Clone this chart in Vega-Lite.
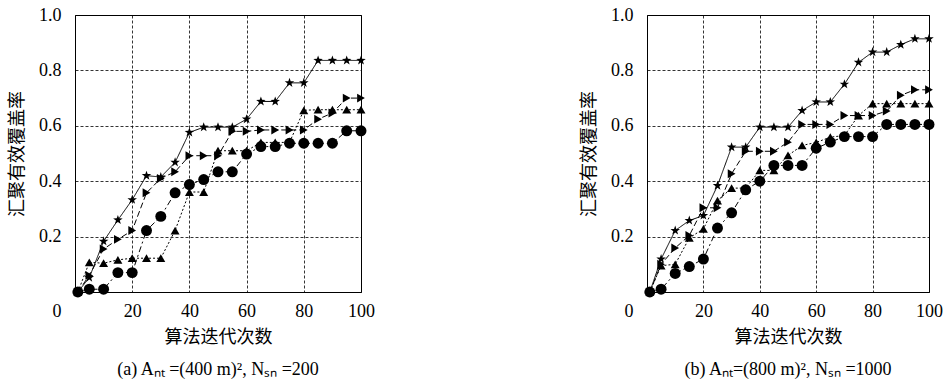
{
  "$schema": "https://vega.github.io/schema/vega-lite/v6.json",
  "background": "white",
  "padding": {"left": 8, "top": 5, "right": 0, "bottom": 0},
  "datasets": {
    "d": [
      {"panel":"a","algorithm":"QWPEA","iteration":1,"coverage":0},
      {"panel":"a","algorithm":"QWPEA","iteration":5,"coverage":0.052},
      {"panel":"a","algorithm":"QWPEA","iteration":10,"coverage":0.183},
      {"panel":"a","algorithm":"QWPEA","iteration":15,"coverage":0.26},
      {"panel":"a","algorithm":"QWPEA","iteration":20,"coverage":0.333},
      {"panel":"a","algorithm":"QWPEA","iteration":25,"coverage":0.42},
      {"panel":"a","algorithm":"QWPEA","iteration":30,"coverage":0.415},
      {"panel":"a","algorithm":"QWPEA","iteration":35,"coverage":0.468},
      {"panel":"a","algorithm":"QWPEA","iteration":40,"coverage":0.576},
      {"panel":"a","algorithm":"QWPEA","iteration":45,"coverage":0.595},
      {"panel":"a","algorithm":"QWPEA","iteration":50,"coverage":0.595},
      {"panel":"a","algorithm":"QWPEA","iteration":55,"coverage":0.595},
      {"panel":"a","algorithm":"QWPEA","iteration":60,"coverage":0.624},
      {"panel":"a","algorithm":"QWPEA","iteration":65,"coverage":0.688},
      {"panel":"a","algorithm":"QWPEA","iteration":70,"coverage":0.688},
      {"panel":"a","algorithm":"QWPEA","iteration":75,"coverage":0.755},
      {"panel":"a","algorithm":"QWPEA","iteration":80,"coverage":0.755},
      {"panel":"a","algorithm":"QWPEA","iteration":85,"coverage":0.836},
      {"panel":"a","algorithm":"QWPEA","iteration":90,"coverage":0.836},
      {"panel":"a","algorithm":"QWPEA","iteration":95,"coverage":0.836},
      {"panel":"a","algorithm":"QWPEA","iteration":100,"coverage":0.836},
      {"panel":"a","algorithm":"BWPA","iteration":1,"coverage":0},
      {"panel":"a","algorithm":"BWPA","iteration":5,"coverage":0.06},
      {"panel":"a","algorithm":"BWPA","iteration":10,"coverage":0.155},
      {"panel":"a","algorithm":"BWPA","iteration":15,"coverage":0.19},
      {"panel":"a","algorithm":"BWPA","iteration":20,"coverage":0.222},
      {"panel":"a","algorithm":"BWPA","iteration":25,"coverage":0.358},
      {"panel":"a","algorithm":"BWPA","iteration":30,"coverage":0.41},
      {"panel":"a","algorithm":"BWPA","iteration":35,"coverage":0.434},
      {"panel":"a","algorithm":"BWPA","iteration":40,"coverage":0.492},
      {"panel":"a","algorithm":"BWPA","iteration":45,"coverage":0.492},
      {"panel":"a","algorithm":"BWPA","iteration":50,"coverage":0.492},
      {"panel":"a","algorithm":"BWPA","iteration":55,"coverage":0.58},
      {"panel":"a","algorithm":"BWPA","iteration":60,"coverage":0.58},
      {"panel":"a","algorithm":"BWPA","iteration":65,"coverage":0.585},
      {"panel":"a","algorithm":"BWPA","iteration":70,"coverage":0.585},
      {"panel":"a","algorithm":"BWPA","iteration":75,"coverage":0.585},
      {"panel":"a","algorithm":"BWPA","iteration":80,"coverage":0.585},
      {"panel":"a","algorithm":"BWPA","iteration":85,"coverage":0.624},
      {"panel":"a","algorithm":"BWPA","iteration":90,"coverage":0.646},
      {"panel":"a","algorithm":"BWPA","iteration":95,"coverage":0.7},
      {"panel":"a","algorithm":"BWPA","iteration":100,"coverage":0.7},
      {"panel":"a","algorithm":"NSGA-II","iteration":1,"coverage":0},
      {"panel":"a","algorithm":"NSGA-II","iteration":5,"coverage":0.107},
      {"panel":"a","algorithm":"NSGA-II","iteration":10,"coverage":0.104},
      {"panel":"a","algorithm":"NSGA-II","iteration":15,"coverage":0.116},
      {"panel":"a","algorithm":"NSGA-II","iteration":20,"coverage":0.122},
      {"panel":"a","algorithm":"NSGA-II","iteration":25,"coverage":0.122},
      {"panel":"a","algorithm":"NSGA-II","iteration":30,"coverage":0.122},
      {"panel":"a","algorithm":"NSGA-II","iteration":35,"coverage":0.222},
      {"panel":"a","algorithm":"NSGA-II","iteration":40,"coverage":0.361},
      {"panel":"a","algorithm":"NSGA-II","iteration":45,"coverage":0.361},
      {"panel":"a","algorithm":"NSGA-II","iteration":50,"coverage":0.51},
      {"panel":"a","algorithm":"NSGA-II","iteration":55,"coverage":0.51},
      {"panel":"a","algorithm":"NSGA-II","iteration":60,"coverage":0.51},
      {"panel":"a","algorithm":"NSGA-II","iteration":65,"coverage":0.54},
      {"panel":"a","algorithm":"NSGA-II","iteration":70,"coverage":0.54},
      {"panel":"a","algorithm":"NSGA-II","iteration":75,"coverage":0.54},
      {"panel":"a","algorithm":"NSGA-II","iteration":80,"coverage":0.656},
      {"panel":"a","algorithm":"NSGA-II","iteration":85,"coverage":0.658},
      {"panel":"a","algorithm":"NSGA-II","iteration":90,"coverage":0.658},
      {"panel":"a","algorithm":"NSGA-II","iteration":95,"coverage":0.658},
      {"panel":"a","algorithm":"NSGA-II","iteration":100,"coverage":0.658},
      {"panel":"a","algorithm":"MOPSO","iteration":1,"coverage":0},
      {"panel":"a","algorithm":"MOPSO","iteration":5,"coverage":0.01},
      {"panel":"a","algorithm":"MOPSO","iteration":10,"coverage":0.01},
      {"panel":"a","algorithm":"MOPSO","iteration":15,"coverage":0.07},
      {"panel":"a","algorithm":"MOPSO","iteration":20,"coverage":0.07},
      {"panel":"a","algorithm":"MOPSO","iteration":25,"coverage":0.222},
      {"panel":"a","algorithm":"MOPSO","iteration":30,"coverage":0.273},
      {"panel":"a","algorithm":"MOPSO","iteration":35,"coverage":0.358},
      {"panel":"a","algorithm":"MOPSO","iteration":40,"coverage":0.388},
      {"panel":"a","algorithm":"MOPSO","iteration":45,"coverage":0.406},
      {"panel":"a","algorithm":"MOPSO","iteration":50,"coverage":0.434},
      {"panel":"a","algorithm":"MOPSO","iteration":55,"coverage":0.434},
      {"panel":"a","algorithm":"MOPSO","iteration":60,"coverage":0.498},
      {"panel":"a","algorithm":"MOPSO","iteration":65,"coverage":0.525},
      {"panel":"a","algorithm":"MOPSO","iteration":70,"coverage":0.525},
      {"panel":"a","algorithm":"MOPSO","iteration":75,"coverage":0.537},
      {"panel":"a","algorithm":"MOPSO","iteration":80,"coverage":0.537},
      {"panel":"a","algorithm":"MOPSO","iteration":85,"coverage":0.537},
      {"panel":"a","algorithm":"MOPSO","iteration":90,"coverage":0.537},
      {"panel":"a","algorithm":"MOPSO","iteration":95,"coverage":0.582},
      {"panel":"a","algorithm":"MOPSO","iteration":100,"coverage":0.582},
      {"panel":"b","algorithm":"QWPEA","iteration":1,"coverage":0},
      {"panel":"b","algorithm":"QWPEA","iteration":5,"coverage":0.119},
      {"panel":"b","algorithm":"QWPEA","iteration":10,"coverage":0.222},
      {"panel":"b","algorithm":"QWPEA","iteration":15,"coverage":0.258},
      {"panel":"b","algorithm":"QWPEA","iteration":20,"coverage":0.276},
      {"panel":"b","algorithm":"QWPEA","iteration":25,"coverage":0.384},
      {"panel":"b","algorithm":"QWPEA","iteration":30,"coverage":0.523},
      {"panel":"b","algorithm":"QWPEA","iteration":35,"coverage":0.523},
      {"panel":"b","algorithm":"QWPEA","iteration":40,"coverage":0.595},
      {"panel":"b","algorithm":"QWPEA","iteration":45,"coverage":0.595},
      {"panel":"b","algorithm":"QWPEA","iteration":50,"coverage":0.595},
      {"panel":"b","algorithm":"QWPEA","iteration":55,"coverage":0.655},
      {"panel":"b","algorithm":"QWPEA","iteration":60,"coverage":0.686},
      {"panel":"b","algorithm":"QWPEA","iteration":65,"coverage":0.686},
      {"panel":"b","algorithm":"QWPEA","iteration":70,"coverage":0.75},
      {"panel":"b","algorithm":"QWPEA","iteration":75,"coverage":0.829},
      {"panel":"b","algorithm":"QWPEA","iteration":80,"coverage":0.866},
      {"panel":"b","algorithm":"QWPEA","iteration":85,"coverage":0.866},
      {"panel":"b","algorithm":"QWPEA","iteration":90,"coverage":0.893},
      {"panel":"b","algorithm":"QWPEA","iteration":95,"coverage":0.914},
      {"panel":"b","algorithm":"QWPEA","iteration":100,"coverage":0.914},
      {"panel":"b","algorithm":"BWPA","iteration":1,"coverage":0},
      {"panel":"b","algorithm":"BWPA","iteration":5,"coverage":0.1},
      {"panel":"b","algorithm":"BWPA","iteration":10,"coverage":0.159},
      {"panel":"b","algorithm":"BWPA","iteration":15,"coverage":0.204},
      {"panel":"b","algorithm":"BWPA","iteration":20,"coverage":0.304},
      {"panel":"b","algorithm":"BWPA","iteration":25,"coverage":0.304},
      {"panel":"b","algorithm":"BWPA","iteration":30,"coverage":0.427},
      {"panel":"b","algorithm":"BWPA","iteration":35,"coverage":0.508},
      {"panel":"b","algorithm":"BWPA","iteration":40,"coverage":0.508},
      {"panel":"b","algorithm":"BWPA","iteration":45,"coverage":0.508},
      {"panel":"b","algorithm":"BWPA","iteration":50,"coverage":0.541},
      {"panel":"b","algorithm":"BWPA","iteration":55,"coverage":0.605},
      {"panel":"b","algorithm":"BWPA","iteration":60,"coverage":0.605},
      {"panel":"b","algorithm":"BWPA","iteration":65,"coverage":0.605},
      {"panel":"b","algorithm":"BWPA","iteration":70,"coverage":0.637},
      {"panel":"b","algorithm":"BWPA","iteration":75,"coverage":0.637},
      {"panel":"b","algorithm":"BWPA","iteration":80,"coverage":0.637},
      {"panel":"b","algorithm":"BWPA","iteration":85,"coverage":0.653},
      {"panel":"b","algorithm":"BWPA","iteration":90,"coverage":0.71},
      {"panel":"b","algorithm":"BWPA","iteration":95,"coverage":0.73},
      {"panel":"b","algorithm":"BWPA","iteration":100,"coverage":0.73},
      {"panel":"b","algorithm":"NSGA-II","iteration":1,"coverage":0},
      {"panel":"b","algorithm":"NSGA-II","iteration":5,"coverage":0.095},
      {"panel":"b","algorithm":"NSGA-II","iteration":10,"coverage":0.1},
      {"panel":"b","algorithm":"NSGA-II","iteration":15,"coverage":0.195},
      {"panel":"b","algorithm":"NSGA-II","iteration":20,"coverage":0.228},
      {"panel":"b","algorithm":"NSGA-II","iteration":25,"coverage":0.33},
      {"panel":"b","algorithm":"NSGA-II","iteration":30,"coverage":0.375},
      {"panel":"b","algorithm":"NSGA-II","iteration":35,"coverage":0.375},
      {"panel":"b","algorithm":"NSGA-II","iteration":40,"coverage":0.439},
      {"panel":"b","algorithm":"NSGA-II","iteration":45,"coverage":0.439},
      {"panel":"b","algorithm":"NSGA-II","iteration":50,"coverage":0.493},
      {"panel":"b","algorithm":"NSGA-II","iteration":55,"coverage":0.529},
      {"panel":"b","algorithm":"NSGA-II","iteration":60,"coverage":0.54},
      {"panel":"b","algorithm":"NSGA-II","iteration":65,"coverage":0.559},
      {"panel":"b","algorithm":"NSGA-II","iteration":70,"coverage":0.565},
      {"panel":"b","algorithm":"NSGA-II","iteration":75,"coverage":0.637},
      {"panel":"b","algorithm":"NSGA-II","iteration":80,"coverage":0.68},
      {"panel":"b","algorithm":"NSGA-II","iteration":85,"coverage":0.68},
      {"panel":"b","algorithm":"NSGA-II","iteration":90,"coverage":0.68},
      {"panel":"b","algorithm":"NSGA-II","iteration":95,"coverage":0.68},
      {"panel":"b","algorithm":"NSGA-II","iteration":100,"coverage":0.68},
      {"panel":"b","algorithm":"MOPSO","iteration":1,"coverage":0},
      {"panel":"b","algorithm":"MOPSO","iteration":5,"coverage":0.01},
      {"panel":"b","algorithm":"MOPSO","iteration":10,"coverage":0.067},
      {"panel":"b","algorithm":"MOPSO","iteration":15,"coverage":0.092},
      {"panel":"b","algorithm":"MOPSO","iteration":20,"coverage":0.119},
      {"panel":"b","algorithm":"MOPSO","iteration":25,"coverage":0.231},
      {"panel":"b","algorithm":"MOPSO","iteration":30,"coverage":0.286},
      {"panel":"b","algorithm":"MOPSO","iteration":35,"coverage":0.369},
      {"panel":"b","algorithm":"MOPSO","iteration":40,"coverage":0.4},
      {"panel":"b","algorithm":"MOPSO","iteration":45,"coverage":0.457},
      {"panel":"b","algorithm":"MOPSO","iteration":50,"coverage":0.457},
      {"panel":"b","algorithm":"MOPSO","iteration":55,"coverage":0.457},
      {"panel":"b","algorithm":"MOPSO","iteration":60,"coverage":0.519},
      {"panel":"b","algorithm":"MOPSO","iteration":65,"coverage":0.541},
      {"panel":"b","algorithm":"MOPSO","iteration":70,"coverage":0.561},
      {"panel":"b","algorithm":"MOPSO","iteration":75,"coverage":0.561},
      {"panel":"b","algorithm":"MOPSO","iteration":80,"coverage":0.561},
      {"panel":"b","algorithm":"MOPSO","iteration":85,"coverage":0.605},
      {"panel":"b","algorithm":"MOPSO","iteration":90,"coverage":0.605},
      {"panel":"b","algorithm":"MOPSO","iteration":95,"coverage":0.605},
      {"panel":"b","algorithm":"MOPSO","iteration":100,"coverage":0.605}
    ]
  },
  "config": {
    "view": {"stroke": "#000000", "strokeWidth": 1},
    "font": "Liberation Serif",
    "axis": {
      "labelFont": "Liberation Serif",
      "labelFontSize": 18,
      "labelColor": "#000000",
      "titleFont": "Noto Sans CJK SC",
      "titleFontSize": 18,
      "titleFontWeight": "normal",
      "titleColor": "#000000",
      "grid": true,
      "gridColor": "#000000",
      "gridDash": [3, 2],
      "gridWidth": 0.8,
      "gridOpacity": 1,
      "domain": false,
      "ticks": false,
      "tickSize": 0,
      "labelFlush": false
    },
    "axisX": {"labelPadding": 10, "titlePadding": 8},
    "axisY": {"labelPadding": 14, "titlePadding": 12}
  },
  "spacing": 286,
  "bounds": "flush",
  "resolve": {
    "scale": {"shape": "independent", "strokeDash": "independent"},
    "legend": {"shape": "independent", "strokeDash": "independent"}
  },
  "hconcat": [
    {
      "width": 286,
      "height": 277,
      "data": {"name": "d"},
      "transform": [{"filter": "datum.panel === 'a'"}],
      "title": {"text": "(a) Aₙₜ =(400 m)², Nₛₙ =200", "orient": "bottom", "frame": "group", "anchor": "middle", "font": "Liberation Serif", "fontSize": 18, "fontWeight": "normal", "color": "#000000", "offset": 15},
      "encoding": {
        "x": {"field": "iteration", "type": "quantitative", "scale": {"domain": [0, 100], "nice": false},
          "axis": {"values": [0, 20, 40, 60, 80, 100], "title": "算法迭代次数",
            "labelAlign": {"condition": {"test": "datum.value === 0", "value": "right"}, "value": "center"},
            "labelOffset": {"condition": {"test": "datum.value === 0", "value": -14}, "value": 0}}},
        "y": {"field": "coverage", "type": "quantitative", "scale": {"domain": [0, 1], "nice": false},
          "axis": {"values": [0, 0.2, 0.4, 0.6, 0.8, 1], "format": ".1f", "labelExpr": "datum.value === 0 ? '' : datum.label", "title": "汇聚有效覆盖率"}}
      },
      "layer": [
        {
          "mark": {"type": "line", "color": "#000000", "strokeWidth": 1},
          "encoding": {
            "strokeDash": {"field": "algorithm", "type": "nominal", "scale": {"domain": ["QWPEA", "NSGA-II", "BWPA", "MOPSO"], "range": [[1, 0], [2, 2], [6, 3], [6, 3, 2, 3]]}, "legend": null}
          }
        },
        {
          "mark": {"type": "point", "filled": true, "color": "#000000", "opacity": 1},
          "encoding": {
            "size": {"condition": [{"test": "datum.algorithm === 'MOPSO'", "value": 120}, {"test": "datum.algorithm === 'QWPEA'", "value": 100}], "value": 80},
            "shape": {"field": "algorithm", "type": "nominal", "scale": {"domain": ["QWPEA", "NSGA-II", "BWPA", "MOPSO"], "range": ["M0,-1L0.235,-0.324L0.951,-0.309L0.38,0.124L0.588,0.809L0,0.4L-0.588,0.809L-0.38,0.124L-0.951,-0.309L-0.235,-0.324Z", "triangle-up", "triangle-right", "circle"]},
              "legend": {"title": null, "orient": "none", "legendX": 344, "legendY": 331, "columns": 2, "direction": "horizontal", "padding": 0, "columnPadding": 22, "rowPadding": 2, "labelFont": "Liberation Serif", "labelFontSize": 18, "labelColor": "#000000", "labelOffset": 14, "symbolSize": 90, "symbolFillColor": "#000000", "symbolStrokeColor": "#000000", "symbolOpacity": 1}}
          }
        }
      ]
    },
    {
      "width": 282,
      "height": 277,
      "data": {"name": "d"},
      "transform": [{"filter": "datum.panel === 'b'"}],
      "title": {"text": "(b) Aₙₜ=(800 m)², Nₛₙ =1000", "orient": "bottom", "frame": "group", "anchor": "middle", "font": "Liberation Serif", "fontSize": 18, "fontWeight": "normal", "color": "#000000", "offset": 15},
      "encoding": {
        "x": {"field": "iteration", "type": "quantitative", "scale": {"domain": [0, 100], "nice": false},
          "axis": {"values": [0, 20, 40, 60, 80, 100], "title": "算法迭代次数",
            "labelAlign": {"condition": {"test": "datum.value === 0", "value": "right"}, "value": "center"},
            "labelOffset": {"condition": {"test": "datum.value === 0", "value": -14}, "value": 0}}},
        "y": {"field": "coverage", "type": "quantitative", "scale": {"domain": [0, 1], "nice": false},
          "axis": {"values": [0, 0.2, 0.4, 0.6, 0.8, 1], "format": ".1f", "labelExpr": "datum.value === 0 ? '' : datum.label", "title": "汇聚有效覆盖率"}}
      },
      "layer": [
        {
          "mark": {"type": "line", "color": "#000000", "strokeWidth": 1},
          "encoding": {
            "strokeDash": {"field": "algorithm", "type": "nominal", "scale": {"domain": ["QWPEA", "NSGA-II", "BWPA", "MOPSO"], "range": [[1, 0], [2, 2], [6, 3], [6, 3, 2, 3]]}, "legend": null}
          }
        },
        {
          "mark": {"type": "point", "filled": true, "color": "#000000", "opacity": 1},
          "encoding": {
            "size": {"condition": [{"test": "datum.algorithm === 'MOPSO'", "value": 120}, {"test": "datum.algorithm === 'QWPEA'", "value": 100}], "value": 80},
            "shape": {"field": "algorithm", "type": "nominal", "scale": {"domain": ["QWPEA", "NSGA-II", "BWPA", "MOPSO"], "range": ["M0,-1L0.235,-0.324L0.951,-0.309L0.38,0.124L0.588,0.809L0,0.4L-0.588,0.809L-0.38,0.124L-0.951,-0.309L-0.235,-0.324Z", "triangle-up", "triangle-right", "circle"]}, "legend": null}
          }
        }
      ]
    }
  ]
}
